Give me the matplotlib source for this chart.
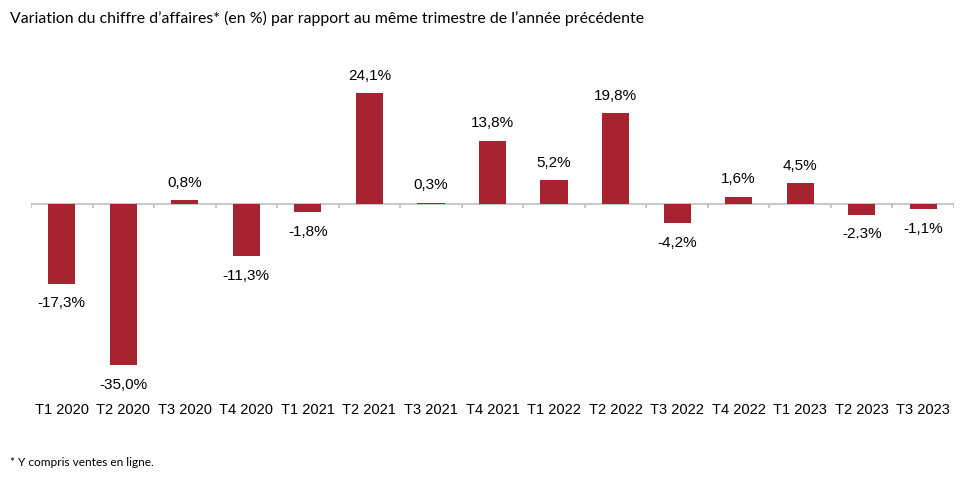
import matplotlib
matplotlib.use("Agg")
import matplotlib.pyplot as plt

categories = ["T1 2020", "T2 2020", "T3 2020", "T4 2020", "T1 2021", "T2 2021", "T3 2021",
              "T4 2021", "T1 2022", "T2 2022", "T3 2022", "T4 2022", "T1 2023", "T2 2023", "T3 2023"]
values = [-17.3, -35.0, 0.8, -11.3, -1.8, 24.1, 0.3, 13.8, 5.2, 19.8, -4.2, 1.6, 4.5, -2.3, -1.1]
labels = ["-17,3%", "-35,0%", "0,8%", "-11,3%", "-1,8%", "24,1%", "0,3%", "13,8%", "5,2%",
          "19,8%", "-4,2%", "1,6%", "4,5%", "-2.3%", "-1,1%"]

W, H = 973, 479
fig = plt.figure(figsize=(W / 100, H / 100), dpi=100)
# axes in pixel coordinates
left, right = 31, 954
ymin, ymax = -40, 30
scale = 4.6
zero_px = 204
top_px = zero_px - ymax * scale
bot_px = zero_px - ymin * scale
ax = fig.add_axes([left / W, 1 - bot_px / H, (right - left) / W, (bot_px - top_px) / H])

x = list(range(len(categories)))
ax.bar(x, values, width=0.44, color="#A6232F", zorder=3)
ax.set_xlim(-0.5, len(categories) - 0.5)
ax.set_ylim(ymin, ymax)

ax.axhline(0, color="#BFBFBF", lw=1.2, zorder=2)
ax.vlines([i - 0.5 for i in range(len(categories) + 1)], -0.9, 0, color="#BFBFBF", lw=1.2, zorder=2)

for xi, v, lab in zip(x, values, labels):
    if v >= 0:
        ax.annotate(lab, (xi, v), xytext=(0, 7.5), textcoords="offset points",
                    ha="center", va="bottom", fontsize=11, family="Liberation Sans", color="#000000")
    else:
        ax.annotate(lab, (xi, v), xytext=(0, -9.3), textcoords="offset points",
                    ha="center", va="top", fontsize=11, family="Liberation Sans", color="#000000")

for s in ax.spines.values():
    s.set_visible(False)
ax.set_yticks([])
ax.set_xticks(x)
ax.set_xticklabels(categories, fontsize=10.5, family="Liberation Sans")
ax.tick_params(axis="x", length=0, pad=11)

fig.text(10 / W, 1 - 18 / H, "Variation du chiffre d\u2019affaires* (en %) par rapport au m\u00eame trimestre de l\u2019ann\u00e9e pr\u00e9c\u00e9dente",
         ha="left", va="center", fontsize=11.4, family="Lato")
fig.text(10 / W, 1 - 462 / H, "* Y compris ventes en ligne.", ha="left", va="center", fontsize=8.6, family="Lato")

fig.savefig("out.png", dpi=100)
